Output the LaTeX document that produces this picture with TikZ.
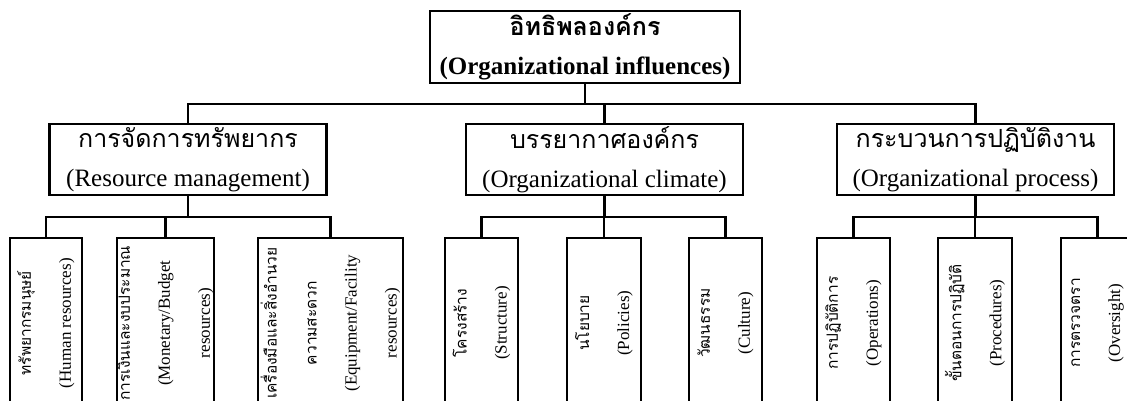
\documentclass[tikz,border=0pt]{standalone}
\usepackage{fontspec}
\setmainfont{Liberation Serif}
\newfontfamily\thai[Script=Thai]{Loma}
\newcommand{\thaileaf}{\thai\fontsize{15.5}{40}\selectfont}
\usetikzlibrary{positioning}
\tikzset{
  head/.style={draw,line width=2.4pt,align=center,inner sep=0pt,minimum width=277,minimum height=71,font=\fontsize{25}{39}\selectfont},
  leaf/.style={draw,line width=2.2pt,align=center,inner sep=0pt,rotate=90,anchor=east,minimum width=170,font=\fontsize{17}{40}\selectfont},
  wire/.style={draw,line width=2.2pt}
}

\begin{document}
\begin{tikzpicture}[x=1pt,y=-1pt]
  \useasboundingbox (0,0) rectangle (1127,401);
  \clip (0,0) rectangle (1127,401);
  % top of the tree
  \node[head,minimum width=310,minimum height=72,line width=2.6pt] (infl) at (585,47)
    {\thai\bfseries อิทธิพลองค์กร\\\rmfamily\bfseries (Organizational influences)};
  % second level
  \foreach \nm/\x/\th/\en in {res/188/การจัดการทรัพยากร/Resource management,
      clim/604.5/บรรยากาศองค์กร/Organizational climate,
      proc/975.5/กระบวนการปฏิบัติงาน/Organizational process} {
    \node[head] (\nm) at (\x,159.5) {\thai\th\\\rmfamily(\en)};
    \draw[wire] (infl.south) -- ++(0,20) -| (\nm.north);
  }
  % third level
  \foreach \nm/\up/\x/\w/\txt in {
      hum/res/46/72/{\thaileaf ทรัพยากรมนุษย์\\\rmfamily(Human resources)},
      bud/res/165.5/97/{\thaileaf การเงินและงบประมาณ\\\rmfamily(Monetary/Budget\\resources)},
      equ/res/330.5/145/{\thaileaf เครื่องมือและสิ่งอำนวย\\\thaileaf ความสะดวก\\\rmfamily(Equipment/Facility\\resources)},
      str/clim/481.5/73/{\thaileaf โครงสร้าง\\\rmfamily(Structure)},
      pol/clim/604/74/{\thaileaf นโยบาย\\\rmfamily(Policies)},
      cul/clim/725.5/73/{\thaileaf วัฒนธรรม\\\rmfamily(Culture)},
      ops/proc/853.5/73/{\thaileaf การปฏิบัติการ\\\rmfamily(Operations)},
      pro/proc/975/74/{\thaileaf ขั้นตอนการปฏิบัติ\\\rmfamily(Procedures)},
      ovs/proc/1097.5/73/{\thaileaf การตรวจตรา\\\rmfamily(Oversight)}} {
    \node[leaf,minimum height=\w] (\nm) at (\x,237) {\txt};
    \draw[wire] (\up.south) -- ++(0,21) -| (\nm.east);
  }
\end{tikzpicture}
\end{document}
